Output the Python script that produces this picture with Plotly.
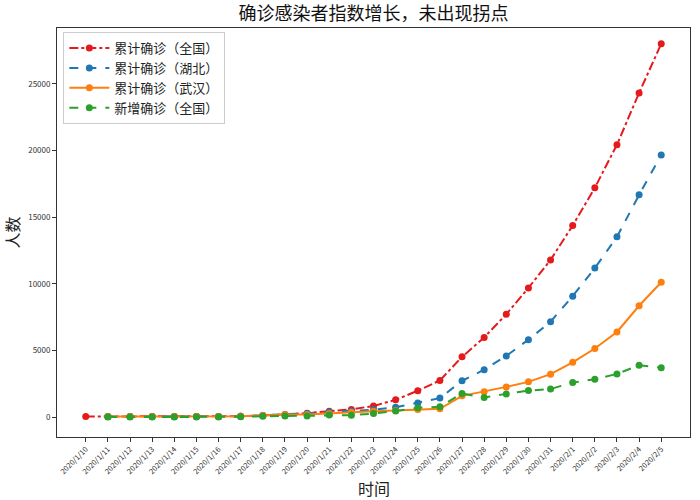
import plotly.graph_objects as go

# 日期（2020/1/10 - 2020/2/5）
dates = ['2020/1/10', '2020/1/11', '2020/1/12', '2020/1/13', '2020/1/14', '2020/1/15',
         '2020/1/16', '2020/1/17', '2020/1/18', '2020/1/19', '2020/1/20', '2020/1/21',
         '2020/1/22', '2020/1/23', '2020/1/24', '2020/1/25', '2020/1/26', '2020/1/27',
         '2020/1/28', '2020/1/29', '2020/1/30', '2020/1/31', '2020/2/1', '2020/2/2',
         '2020/2/3', '2020/2/4', '2020/2/5']

# 累计确诊（全国）
total_cn = [41, 41, 41, 41, 41, 41, 45, 62, 121, 198, 291, 440, 571, 830, 1287, 1975,
            2744, 4515, 5974, 7711, 9692, 11791, 14380, 17205, 20438, 24324, 28018]
# 累计确诊（湖北）
total_hb = [None, 41, 41, 41, 41, 41, 45, 62, 121, 198, 270, 375, 444, 549, 729, 1052,
            1423, 2714, 3554, 4586, 5806, 7153, 9074, 11177, 13522, 16678, 19665]
# 累计确诊（武汉）
total_wh = [None, 41, 41, 41, 41, 41, 45, 62, 121, 198, 198, 258, 363, 425, 495, 572,
            618, 1590, 1905, 2261, 2639, 3215, 4109, 5142, 6384, 8351, 10117]
# 新增确诊（全国）
new_cn = [None, 0, 0, 0, 0, 0, 4, 17, 59, 77, 77, 149, 131, 259, 444, 688,
          769, 1771, 1459, 1737, 1982, 2102, 2590, 2829, 3235, 3887, 3694]

y_ticks = [0, 5000, 10000, 15000, 20000, 25000]

series = [
    ('累计确诊（全国）', total_cn, '#e41a1c', 'dashdot'),
    ('累计确诊（湖北）', total_hb, '#1f77b4', 'dash'),
    ('累计确诊（武汉）', total_wh, '#ff7f0e', 'solid'),
    ('新增确诊（全国）', new_cn, '#2ca02c', 'dash'),
]

font = 'Noto Sans CJK SC'

fig = go.Figure()
for name, vals, color, dash in series:
    fig.add_trace(go.Scatter(
        x=list(range(len(dates))),
        y=vals,
        name=name,
        mode='lines+markers',
        line=dict(color=color, width=2, dash=dash),
        marker=dict(color=color, size=7),
    ))

# x轴标题单独放，避免被旋转的刻度标签挤出画面
fig.add_annotation(text='时间', xref='paper', yref='paper', x=0.5, y=-0.125,
                   yanchor='middle', showarrow=False, font=dict(size=16, color='#222'))

fig.update_layout(
    width=700, height=500,
    margin=dict(l=57, r=10, t=28, b=63),
    paper_bgcolor='white', plot_bgcolor='white',
    font=dict(family=font, color='#222'),
    title=dict(text='确诊感染者指数增长，未出现拐点', x=0.5, xref='paper',
               y=0.985, yanchor='top', font=dict(size=18, color='#111')),
    legend=dict(x=0.01, y=0.99, xanchor='left', yanchor='top',
                bgcolor='rgba(255,255,255,0.8)', bordercolor='#ccc', borderwidth=1,
                font=dict(size=13, color='#222'), itemwidth=40, tracegroupgap=2),
    xaxis=dict(
        range=[-1.3, 27.3], automargin=False,
        tickvals=list(range(len(dates))), ticktext=dates, tickangle=-45,
        tickfont=dict(size=7.5, color='#333'),
        ticks='outside', ticklen=4, tickcolor='#333',
        showgrid=False, zeroline=False,
        showline=True, linecolor='#333', linewidth=1, mirror=True,
    ),
    yaxis=dict(
        range=[-1500, 29200], automargin=False,
        tickvals=y_ticks, ticktext=[str(v) for v in y_ticks],
        tickfont=dict(size=8, color='#333'),
        ticks='outside', ticklen=4, tickcolor='#333',
        showgrid=False, zeroline=False,
        showline=True, linecolor='#333', linewidth=1, mirror=True,
        title=dict(text='人数', font=dict(size=16, color='#222'), standoff=8),
    ),
)

# 去掉页面默认的 8px 边距，隐藏工具栏
fig.write_html("out.html", config={'displayModeBar': False},
               post_script="document.body.style.margin='0';")
